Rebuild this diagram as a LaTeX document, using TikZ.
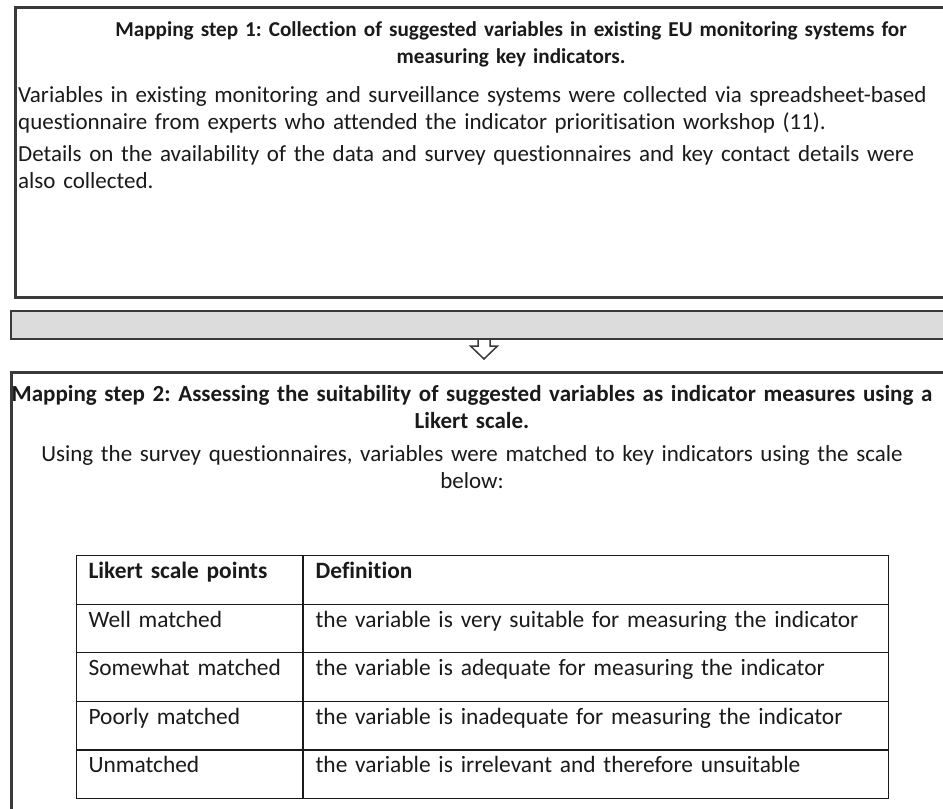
\documentclass[tikz,border=0pt]{standalone}
\usepackage{fontspec}
\setmainfont{Carlito}[RawFeature=-liga]
\usetikzlibrary{positioning,calc}
\definecolor{frame}{HTML}{3A3A3A}
\definecolor{bandfill}{HTML}{DCDCDC}
\definecolor{ink}{HTML}{1A1A1A}
\newcommand{\bodyfont}{\fontsize{23}{27}\selectfont\frenchspacing}
\newcommand{\firstfont}{\fontsize{21.2}{27}\selectfont\frenchspacing}
\newcommand{\cellfont}{\fontsize{23.4}{27}\selectfont\frenchspacing}
\tikzset{
    % Outer step boxes
    stepbox/.style={
        rectangle,
        anchor=north west,
        inner sep=0pt,
        draw=frame,
        fill=white,
        line width=3pt
    },
    % Grey band between the steps
    bandbox/.style={
        rectangle,
        anchor=north west,
        inner sep=0pt,
        draw=frame,
        fill=bandfill,
        line width=2pt
    },
    % Hollow block arrow
    blockarrow/.style={
        draw=frame,
        fill=white,
        line width=1.5pt,
        line join=miter
    },
    % Text styles
    steptitle/.style={
        font=\bodyfont\bfseries,
        text=ink,
        align=center,
        text width=980pt,
        inner sep=0pt
    },
    steptext/.style={
        font=\bodyfont,
        text=ink,
        align=left,
        text width=940pt,
        inner sep=0pt
    },
    % Table cells
    cell/.style={
        rectangle,
        anchor=north west,
        draw=ink,
        line width=1.1pt,
        inner xsep=12pt,
        inner ysep=0pt,
        text height=23pt,
        text depth=25.6pt,
        align=left,
        font=\cellfont,
        text=ink
    }
}

\begin{document}
\begin{tikzpicture}[x=1pt, y=-1pt]
    \useasboundingbox (0,0) rectangle (943,809);
    \clip (0,0) rectangle (943,809);

    % Step 1
    \node[stepbox, minimum width=996pt, minimum height=290pt] (stepone) at (14,6) {};
    \node[steptitle, font=\firstfont\bfseries, anchor=base] (steponetitle) at (511,36) {Mapping step 1: Collection of suggested variables in existing EU monitoring systems for\\measuring key indicators.};
    \node[steptext, anchor=base west] (steponetext) at (18,102) {Variables in existing monitoring and surveillance systems were collected via spreadsheet-based\\questionnaire from experts who attended the indicator prioritisation workshop (11).};
    \node[steptext, anchor=base west] (steponenote) at (18,161) {Details on the availability of the data and survey questionnaires and key contact details were\\also collected.};

    % Band and arrow
    \node[bandbox, minimum width=946pt, minimum height=28pt] (band) at (10,310) {};
    \draw[blockarrow] ([xshift=-6pt]band.south) -- ++(0,6) -- ++(-7.5,0) -- ++(13.5,13)
        -- ++(13.5,-13) -- ++(-7.5,0) -- ++(0,-6);

    % Step 2
    \node[stepbox, minimum width=960pt, minimum height=470pt] (steptwo) at (10,371) {};
    \node[steptitle, anchor=base] (steptwotitle) at (472,401) {Mapping step 2: Assessing the suitability of suggested variables as indicator measures using a\\Likert scale.};
    \node[steptext, anchor=base, align=center] (steptwotext) at (472,461) {Using the survey questionnaires, variables were matched to key indicators using the scale\\below:};

    % Likert table
    \node[cell, text width=202pt, font=\cellfont\bfseries] (pointhead) at (76,555) {Likert scale points};
    \node[cell, text width=561pt, font=\cellfont\bfseries] (defhead) at (pointhead.north east) {Definition};
    \foreach \scalept/\scaledef [count=\r] in {
        Well matched/the variable is very suitable for measuring the indicator,
        Somewhat matched/the variable is adequate for measuring the indicator,
        Poorly matched/the variable is inadequate for measuring the indicator,
        Unmatched/the variable is irrelevant and therefore unsuitable} {
        \node[cell, text width=202pt] (point\r) at (76,{555+48.6*\r}) {\scalept};
        \node[cell, text width=561pt] (def\r) at (point\r.north east) {\scaledef};
    }

\end{tikzpicture}
\end{document}
